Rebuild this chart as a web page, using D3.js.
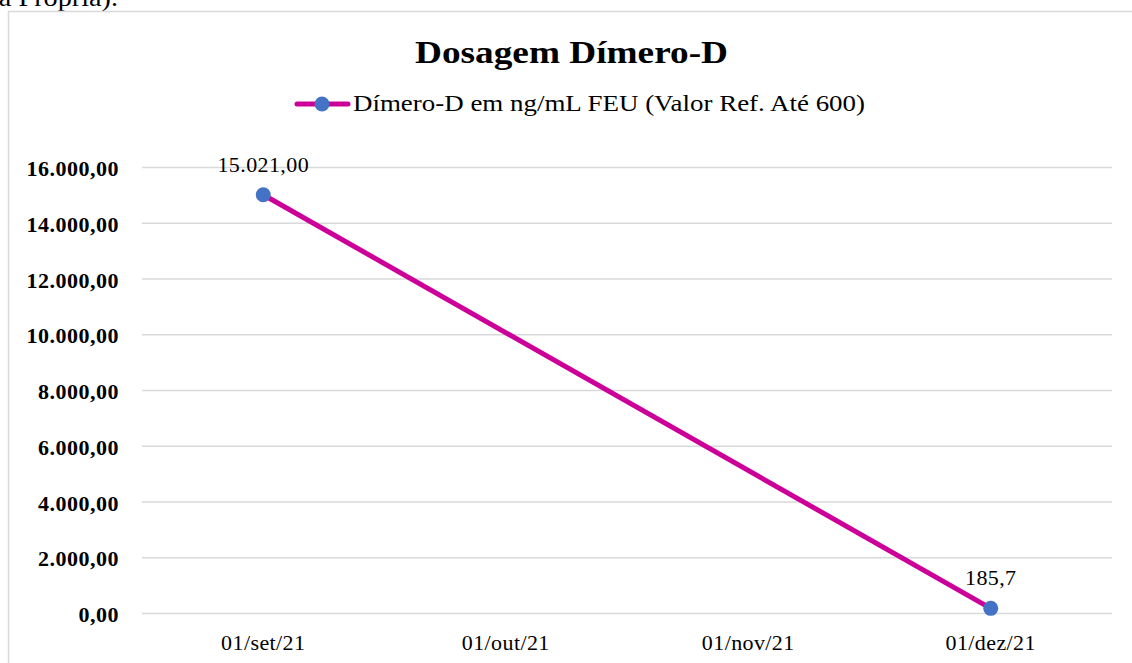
<!DOCTYPE html>
<html>
<head>
<meta charset="utf-8">
<script src="https://cdn.jsdelivr.net/npm/d3@7"></script>
<style>
  body { margin: 0; background: #fff; }
  svg { font-family: "Liberation Serif", "Times New Roman", serif; }
</style>
</head>
<body>
<div id="chart"></div>
<script>
// dados do gráfico
const datas = ["01/set/21", "01/out/21", "01/nov/21", "01/dez/21"];
const dimero = [15021, null, null, 185.7];
const rotulos = ["15.021,00", null, null, "185,7"];
const yTicks = [0, 2000, 4000, 6000, 8000, 10000, 12000, 14000, 16000];

const width = 1132, height = 663;

const svg = d3.select("#chart").append("svg")
  .attr("width", width)
  .attr("height", height);

// texto cortado acima do gráfico
svg.append("text")
  .attr("x", -9).attr("y", 6)
  .attr("textLength", 127)
  .attr("lengthAdjust", "spacingAndGlyphs")
  .style("font-size", "25px")
  .text("ia Própria).");

// moldura
svg.append("path")
  .attr("d", "M8.5," + height + " V11.5 H" + width)
  .attr("fill", "none")
  .attr("stroke", "#d9d9d9")
  .attr("stroke-width", 1.5);

const x = d3.scalePoint().domain(datas).range([142, 1112]).padding(0.5);
const y = d3.scaleLinear().domain([0, 16000]).range([613.5, 167.5]);

// grades
svg.append("g").selectAll("line").data(yTicks).enter()
  .append("line")
  .attr("x1", 142).attr("x2", 1112)
  .attr("y1", d => y(d)).attr("y2", d => y(d))
  .attr("stroke", "#d9d9d9")
  .attr("stroke-width", 1.5);

// eixo y
const fmt = d3.formatLocale({decimal: ",", thousands: ".", grouping: [3], currency: ["R$", ""]}).format(",.2f");
svg.append("g").selectAll("text").data(yTicks).enter()
  .append("text")
  .attr("x", 119)
  .attr("y", d => y(d) + 8.5)
  .attr("text-anchor", "end")
  .style("font-size", "22px")
  .style("font-weight", "bold")
  .style("letter-spacing", "0.5px")
  .text(d => fmt(d));

// eixo x
svg.append("g").selectAll("text").data(datas).enter()
  .append("text")
  .attr("x", d => x(d))
  .attr("y", 650)
  .attr("text-anchor", "middle")
  .style("font-size", "22px")
  .style("letter-spacing", "0.4px")
  .text(d => d);

// título
svg.append("text")
  .attr("x", 415).attr("y", 63)
  .attr("textLength", 313)
  .attr("lengthAdjust", "spacingAndGlyphs")
  .style("font-size", "32px")
  .style("font-weight", "bold")
  .text("Dosagem Dímero-D");

// legenda
svg.append("line")
  .attr("x1", 297).attr("x2", 348)
  .attr("y1", 104).attr("y2", 104)
  .attr("stroke", "#CC0099")
  .attr("stroke-width", 5)
  .attr("stroke-linecap", "round");
svg.append("circle")
  .attr("cx", 322).attr("cy", 104).attr("r", 7.5)
  .attr("fill", "#4472C4");
svg.append("text")
  .attr("x", 353).attr("y", 111)
  .attr("textLength", 512)
  .attr("lengthAdjust", "spacingAndGlyphs")
  .style("font-size", "23px")
  .text("Dímero-D em ng/mL FEU (Valor Ref. Até 600)");

// linha
const pontos = datas.map((d, i) => ({data: d, valor: dimero[i], rotulo: rotulos[i]}))
  .filter(p => p.valor !== null);

const linha = d3.line().x(d => x(d.data)).y(d => y(d.valor));
svg.append("path")
  .datum(pontos)
  .attr("d", linha)
  .attr("fill", "none")
  .attr("stroke", "#CC0099")
  .attr("stroke-width", 5)
  .attr("stroke-linecap", "round");

svg.append("g").selectAll("circle").data(pontos).enter()
  .append("circle")
  .attr("cx", d => x(d.data))
  .attr("cy", d => y(d.valor))
  .attr("r", 7.5)
  .attr("fill", "#4472C4");

// rótulos de dados
svg.append("g").selectAll("text").data(pontos).enter()
  .append("text")
  .attr("x", d => x(d.data))
  .attr("y", d => y(d.valor) - 23)
  .attr("text-anchor", "middle")
  .style("font-size", "22px")
  .style("letter-spacing", "0.4px")
  .text(d => d.rotulo);
</script>
</body>
</html>
